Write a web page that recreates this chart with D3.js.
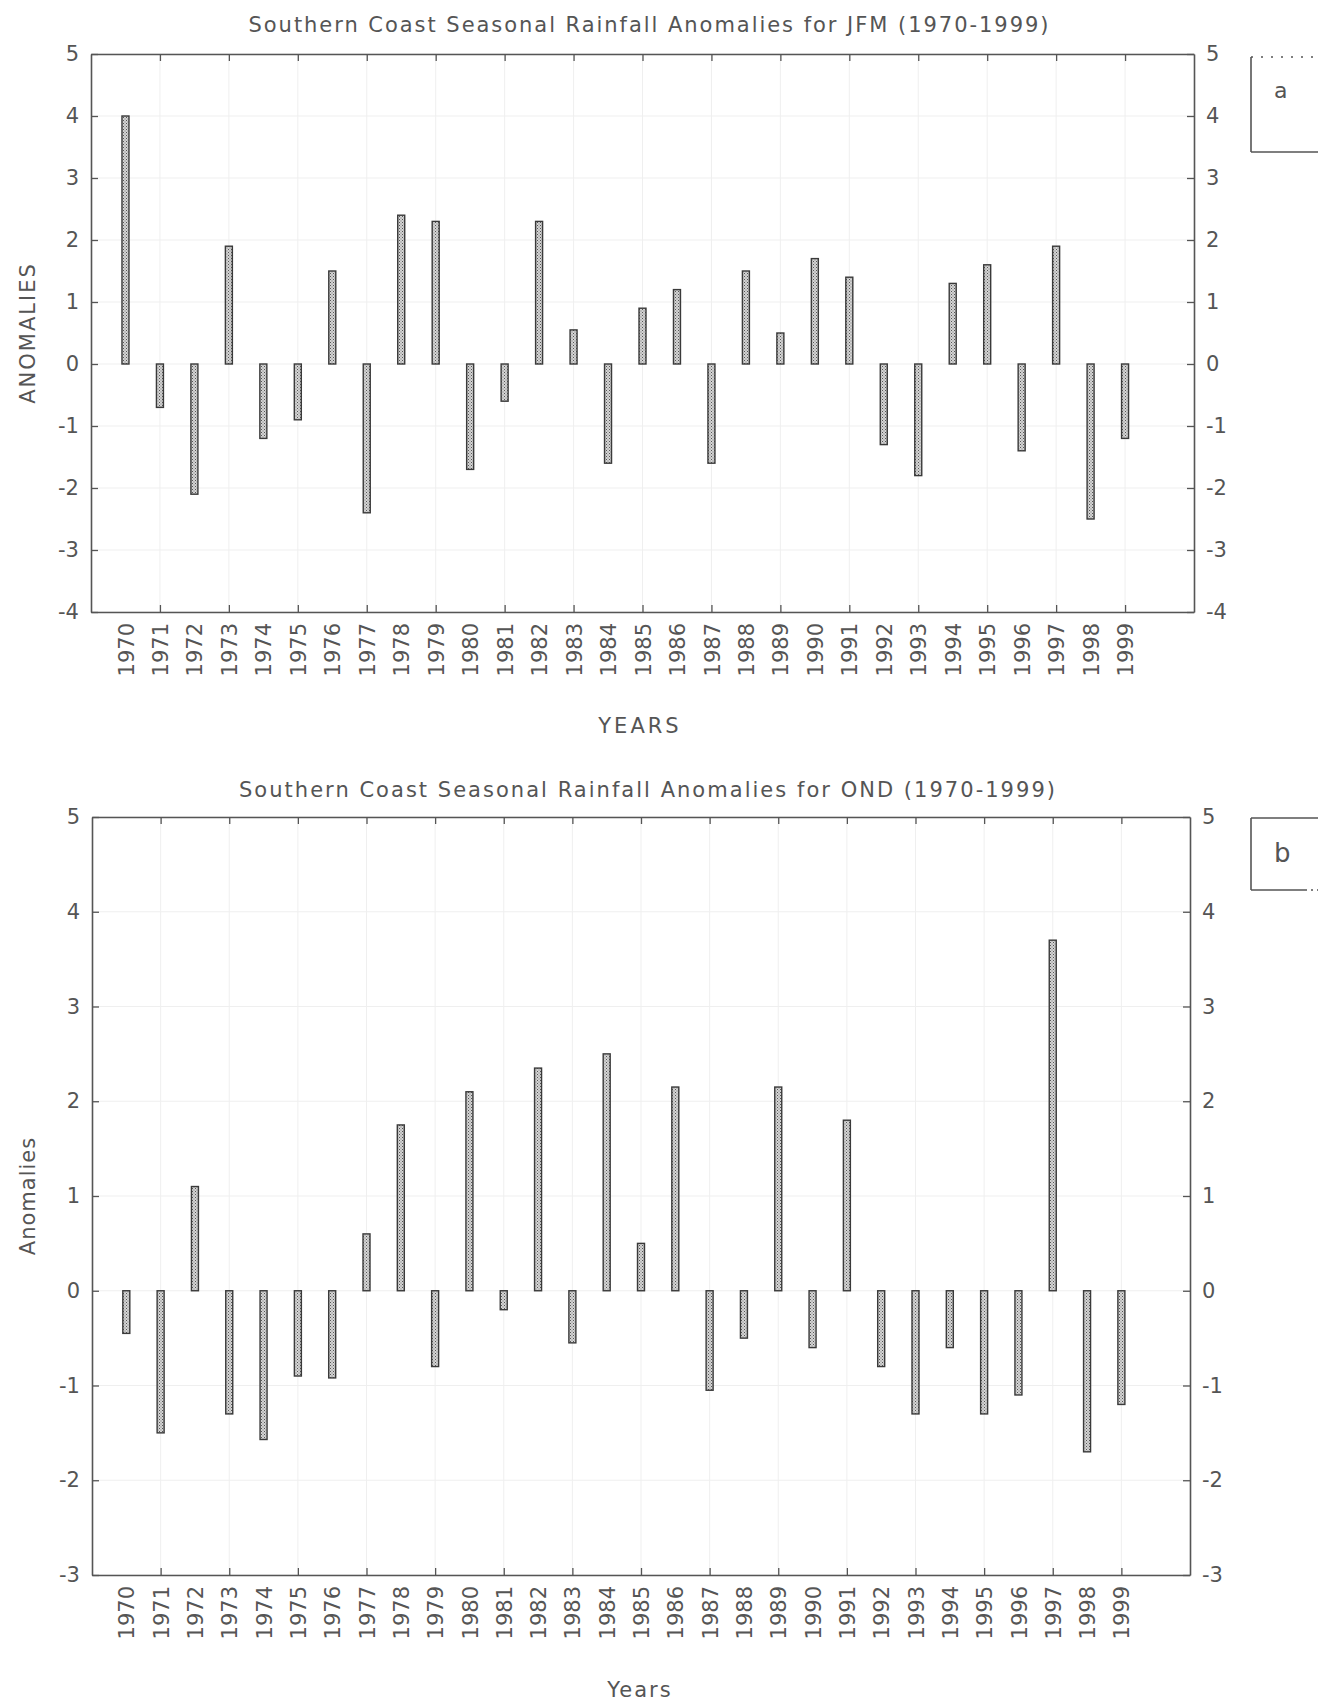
<!DOCTYPE html>
<html>
<head>
<meta charset="utf-8">
<script src="https://cdn.jsdelivr.net/npm/d3@7"></script>
<style>
  body { margin: 0; background: #fff; }
  svg { display: block; }
</style>
</head>
<body>
<svg id="chart" width="1318" height="1702"></svg>
<script>
// years 1970-1999
const years = [1970, 1971, 1972, 1973, 1974, 1975, 1976, 1977, 1978, 1979,
               1980, 1981, 1982, 1983, 1984, 1985, 1986, 1987, 1988, 1989,
               1990, 1991, 1992, 1993, 1994, 1995, 1996, 1997, 1998, 1999];

// JFM anomalies (panel a)
const jfmValues = [4.0, -0.7, -2.1, 1.9, -1.2, -0.9, 1.5, -2.4, 2.4, 2.3,
                   -1.7, -0.6, 2.3, 0.55, -1.6, 0.9, 1.2, -1.6, 1.5, 0.5,
                   1.7, 1.4, -1.3, -1.8, 1.3, 1.6, -1.4, 1.9, -2.5, -1.2];

// OND anomalies (panel b)
const ondValues = [-0.45, -1.5, 1.1, -1.3, -1.57, -0.9, -0.92, 0.6, 1.75, -0.8,
                   2.1, -0.2, 2.35, -0.55, 2.5, 0.5, 2.15, -1.05, -0.5, 2.15,
                   -0.6, 1.8, -0.8, -1.3, -0.6, -1.3, -1.1, 3.7, -1.7, -1.2];

const jfmTicks = [5, 4, 3, 2, 1, 0, -1, -2, -3, -4];
const ondTicks = [5, 4, 3, 2, 1, 0, -1, -2, -3];
const oddYears = years.filter(d => d % 2 === 1);

const svg = d3.select("#chart");
const font = "DejaVu Sans, sans-serif";
const ink = "#555";

// dotted fill for the bars
const pat = svg.append("defs").append("pattern")
    .attr("id", "stipple")
    .attr("width", 3).attr("height", 3)
    .attr("patternUnits", "userSpaceOnUse");
pat.append("rect").attr("width", 3).attr("height", 3).attr("fill", "#d4d4d4");
pat.append("rect").attr("width", 1).attr("height", 1).attr("fill", "#555");
pat.append("rect").attr("x", 1.5).attr("y", 1.5).attr("width", 1).attr("height", 1).attr("fill", "#777");

function drawPanel(p) {
    const x = d3.scaleLinear().domain([1969, 2001]).range([p.left, p.right]);
    const y = d3.scaleLinear().domain([d3.min(p.ticks), d3.max(p.ticks)]).range([p.bottom, p.top]);
    const g = svg.append("g");

    // faint grid
    g.append("g").selectAll("line.v")
        .data(oddYears).enter().append("line")
        .attr("x1", d => x(d)).attr("x2", d => x(d))
        .attr("y1", p.top).attr("y2", p.bottom)
        .attr("stroke", "#efefef");
    g.append("g").selectAll("line.h")
        .data(p.ticks).enter().append("line")
        .attr("x1", p.left).attr("x2", p.right)
        .attr("y1", d => y(d)).attr("y2", d => y(d))
        .attr("stroke", "#efefef");

    // bars
    g.selectAll(".bar")
        .data(years.map((yr, i) => [yr, p.values[i]]))
        .enter()
        .append("rect")
        .attr("class", "bar")
        .attr("x", d => x(d[0]) - 3.5)
        .attr("width", 7)
        .attr("y", d => y(Math.max(0, d[1])))
        .attr("height", d => Math.abs(y(d[1]) - y(0)))
        .attr("fill", "url(#stipple)")
        .attr("stroke", "#3a3a3a")
        .attr("stroke-width", 1.4);

    const styleAxis = sel => {
        sel.attr("color", ink)
            .attr("font-family", font)
            .attr("font-size", 21);
        sel.select(".domain").attr("stroke-width", 1.6);
        sel.selectAll(".tick line").attr("stroke-width", 1.3);
        sel.selectAll("text").attr("fill", ink);
    };

    // left / right value axes, ticks pointing inward
    g.append("g")
        .attr("transform", `translate(${p.left},0)`)
        .call(d3.axisLeft(y).tickValues(p.ticks).tickFormat(d => String(d))
            .tickSize(-7).tickSizeOuter(0).tickPadding(12))
        .call(styleAxis);
    g.append("g")
        .attr("transform", `translate(${p.right},0)`)
        .call(d3.axisRight(y).tickValues(p.ticks).tickFormat(d => String(d))
            .tickSize(-7).tickSizeOuter(0).tickPadding(12))
        .call(styleAxis);

    // top / bottom frame with ticks every other year
    g.append("g")
        .attr("transform", `translate(0,${p.top})`)
        .call(d3.axisTop(x).tickValues(oddYears).tickFormat("")
            .tickSize(-7).tickSizeOuter(0))
        .call(styleAxis);
    g.append("g")
        .attr("transform", `translate(0,${p.bottom})`)
        .call(d3.axisBottom(x).tickValues(oddYears).tickFormat("")
            .tickSize(-7).tickSizeOuter(0))
        .call(styleAxis);

    // year labels, rotated
    const yl = g.append("g")
        .attr("transform", `translate(0,${p.bottom})`)
        .call(d3.axisBottom(x).tickValues(years).tickFormat(d => String(d))
            .tickSize(0).tickSizeOuter(0));
    yl.select(".domain").remove();
    yl.attr("font-family", font).attr("font-size", 21);
    yl.selectAll("text")
        .attr("fill", ink)
        .attr("transform", "rotate(-90)")
        .attr("x", -11)
        .attr("y", 0)
        .attr("dy", "0.36em")
        .style("text-anchor", "end");

    // title
    svg.append("text")
        .attr("x", (p.left + p.right) / 2 + 6)
        .attr("y", p.titleY)
        .attr("text-anchor", "middle")
        .attr("font-family", font)
        .attr("font-size", 21)
        .attr("fill", ink)
        .attr("textLength", p.titleLen)
        .attr("lengthAdjust", "spacing")
        .text(p.title);

    // x label
    svg.append("text")
        .attr("x", 640)
        .attr("y", p.xLabelY)
        .attr("text-anchor", "middle")
        .attr("font-family", font)
        .attr("font-size", 21)
        .attr("letter-spacing", p.xLabelSpacing)
        .attr("fill", ink)
        .text(p.xLabel);

    // y label
    svg.append("text")
        .attr("transform", `translate(35,${(p.top + p.bottom) / 2}) rotate(-90)`)
        .attr("text-anchor", "middle")
        .attr("font-family", font)
        .attr("font-size", 21)
        .attr("letter-spacing", p.yLabelSpacing)
        .attr("fill", ink)
        .text(p.yLabel);

    // panel tag box, cut by the page edge
    const bx = 1251;
    svg.append("line")
        .attr("x1", bx).attr("x2", bx)
        .attr("y1", p.boxTop).attr("y2", p.boxBottom)
        .attr("stroke", ink).attr("stroke-width", 1.6);
    svg.append("line")
        .attr("x1", bx).attr("x2", 1318)
        .attr("y1", p.boxBottom).attr("y2", p.boxBottom)
        .attr("stroke", ink).attr("stroke-width", 1.6)
        .attr("stroke-dasharray", p.boxBottomDash);
    svg.append("line")
        .attr("x1", bx).attr("x2", 1318)
        .attr("y1", p.boxTop).attr("y2", p.boxTop)
        .attr("stroke", ink).attr("stroke-width", 1.6)
        .attr("stroke-dasharray", p.boxTopDash);
    svg.append("text")
        .attr("x", 1274)
        .attr("y", p.tagY)
        .attr("font-family", font)
        .attr("font-size", p.tagSize)
        .attr("fill", ink)
        .text(p.tag);
}

drawPanel({
    values: jfmValues, ticks: jfmTicks,
    left: 91, right: 1194, top: 54, bottom: 612,
    title: "Southern Coast Seasonal Rainfall Anomalies for JFM (1970-1999)",
    titleY: 32, titleLen: 800,
    xLabel: "YEARS", xLabelY: 733, xLabelSpacing: 3,
    yLabel: "ANOMALIES", yLabelSpacing: 2,
    tag: "a", tagY: 98, tagSize: 22,
    boxTop: 57, boxBottom: 152, boxTopDash: "2,8", boxBottomDash: null
});

drawPanel({
    values: ondValues, ticks: ondTicks,
    left: 92, right: 1190, top: 817, bottom: 1575,
    title: "Southern Coast Seasonal Rainfall Anomalies for OND (1970-1999)",
    titleY: 797, titleLen: 816,
    xLabel: "Years", xLabelY: 1697, xLabelSpacing: 2,
    yLabel: "Anomalies", yLabelSpacing: 1,
    tag: "b", tagY: 862, tagSize: 26,
    boxTop: 818, boxBottom: 890, boxTopDash: null, boxBottomDash: "56,4,2,4"
});
</script>
</body>
</html>
